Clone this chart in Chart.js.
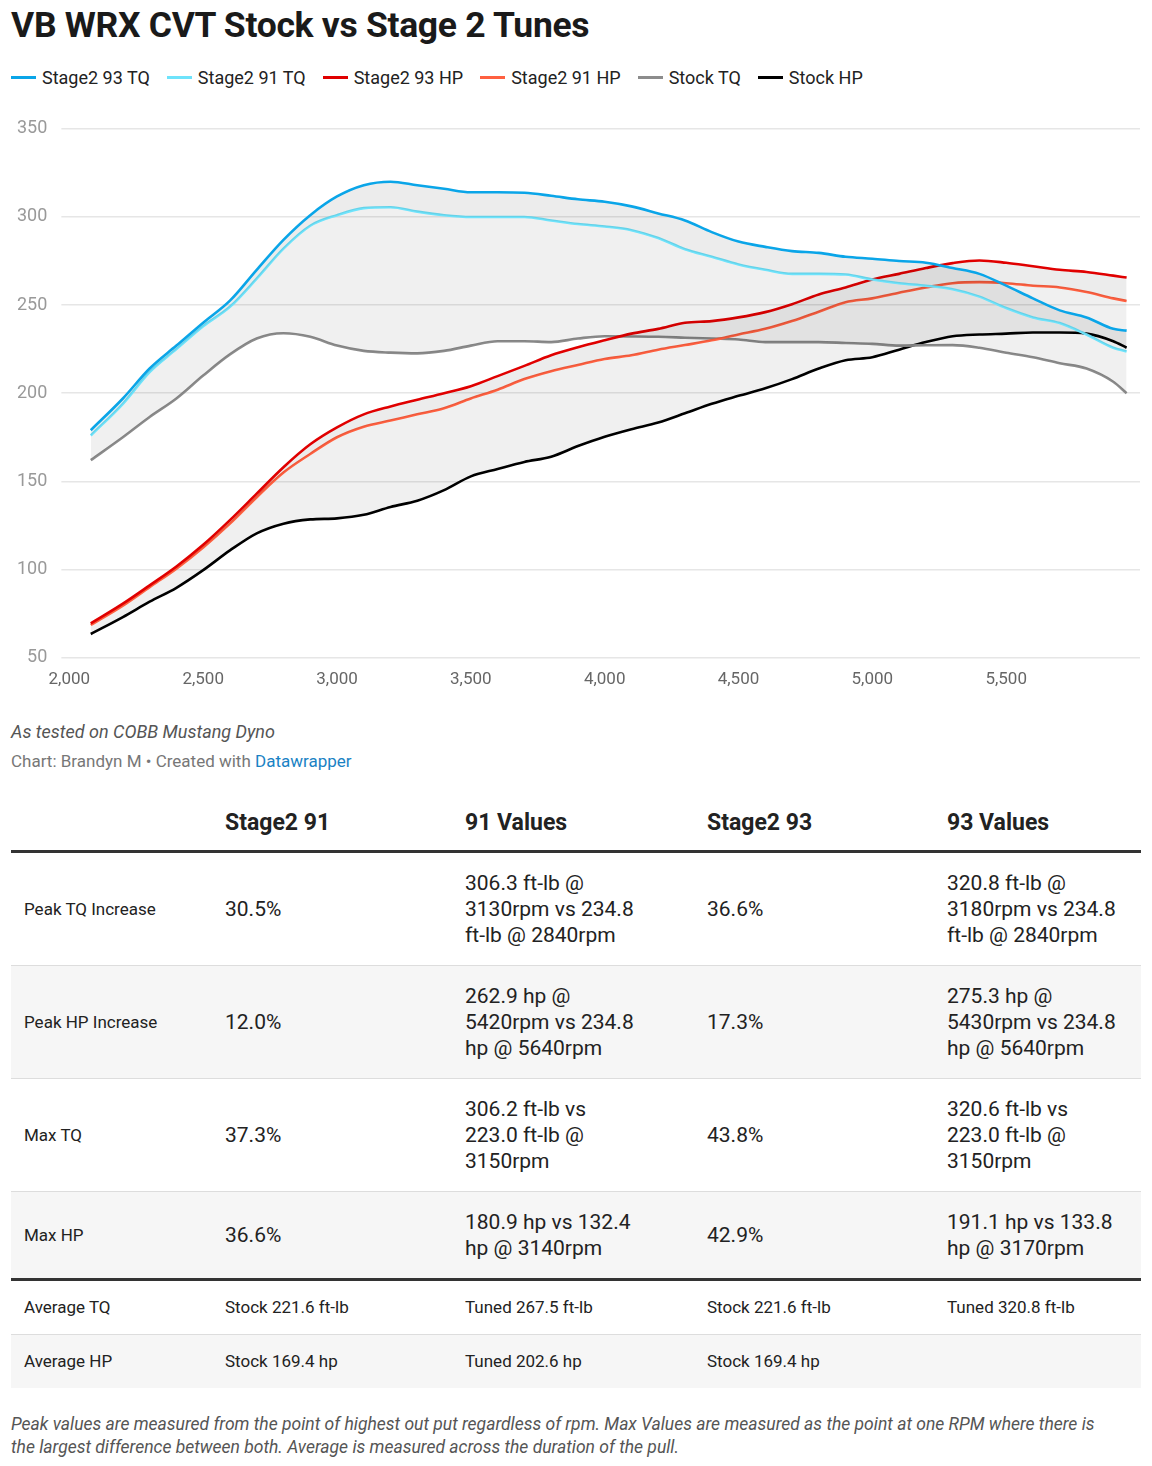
<!DOCTYPE html>
<html><head><meta charset="utf-8">
<script src="https://cdn.jsdelivr.net/npm/chart.js@4"></script>
<style>
body{margin:0;background:#fff;font-family:Roboto,"Noto Sans",sans-serif;color:#222;width:1152px;}
h1{position:absolute;left:11px;top:4px;margin:0;font-size:35.5px;font-weight:700;color:#1a1a1a;letter-spacing:-0.3px}
#legend{position:absolute;left:11px;top:67px;font-size:18px;color:#222;display:flex;gap:0}
#legend span{display:inline-flex;align-items:center;margin-right:17px}
#legend i{display:inline-block;width:25px;height:3px;margin-right:6px}
#wrap{position:absolute;left:3px;top:104px;width:1137px;height:590px}
.note{position:absolute;left:11px;font-size:17px}
table{position:absolute;left:11px;top:795px;width:1130px;border-collapse:collapse;font-size:21px;table-layout:fixed}
th{text-align:left;font-weight:700;font-size:23px;height:55px;vertical-align:middle;border-bottom:3px solid #333;padding:0}
td{vertical-align:middle;padding:17px 0;border-bottom:1px solid #ddd;line-height:26px}
td:first-child{font-size:17px;padding-left:13px}
tr.s td{background:#f6f6f6}
tr.sep td{border-bottom:3px solid #333}
tr.sm td{padding:16px 0;font-size:17px;line-height:21px}
tr.sm td:first-child{padding-left:13px}
</style></head><body>
<h1>VB WRX CVT Stock vs Stage 2 Tunes</h1>
<div id="legend"></div>
<div id="wrap"><canvas id="c"></canvas></div>
<div class="note" style="top:721px;font-style:italic;color:#555;font-size:18px">As tested on COBB Mustang Dyno</div>
<div class="note" style="top:751px;color:#777;font-size:17px">Chart: Brandyn M • Created with <span style="color:#1a82c4">Datawrapper</span></div>
<table>
<colgroup><col style="width:214px"><col style="width:240px"><col style="width:242px"><col style="width:240px"><col></colgroup>
<tr><th></th><th>Stage2 91</th><th>91 Values</th><th>Stage2 93</th><th>93 Values</th></tr>
<tr><td>Peak TQ Increase</td><td>30.5%</td><td>306.3 ft-lb @<br>3130rpm vs 234.8<br>ft-lb @ 2840rpm</td><td>36.6%</td><td>320.8 ft-lb @<br>3180rpm vs 234.8<br>ft-lb @ 2840rpm</td></tr>
<tr class="s"><td>Peak HP Increase</td><td>12.0%</td><td>262.9 hp @<br>5420rpm vs 234.8<br>hp @ 5640rpm</td><td>17.3%</td><td>275.3 hp @<br>5430rpm vs 234.8<br>hp @ 5640rpm</td></tr>
<tr><td>Max TQ</td><td>37.3%</td><td>306.2 ft-lb vs<br>223.0 ft-lb @<br>3150rpm</td><td>43.8%</td><td>320.6 ft-lb vs<br>223.0 ft-lb @<br>3150rpm</td></tr>
<tr class="s sep"><td>Max HP</td><td>36.6%</td><td>180.9 hp vs 132.4<br>hp @ 3140rpm</td><td>42.9%</td><td>191.1 hp vs 133.8<br>hp @ 3170rpm</td></tr>
<tr class="sm"><td>Average TQ</td><td>Stock 221.6 ft-lb</td><td>Tuned 267.5 ft-lb</td><td>Stock 221.6 ft-lb</td><td>Tuned 320.8 ft-lb</td></tr>
<tr class="sm s"><td style="border-bottom:none">Average HP</td><td style="border-bottom:none">Stock 169.4 hp</td><td style="border-bottom:none">Tuned 202.6 hp</td><td style="border-bottom:none">Stock 169.4 hp</td><td style="border-bottom:none"></td></tr>
</table>
<div class="note" style="top:1413px;font-style:italic;color:#555;font-size:17.5px;line-height:23px;width:1090px">Peak values are measured from the point of highest out put regardless of rpm. Max Values are measured as the point at one RPM where there is the largest difference between both. Average is measured across the duration of the pull.</div>
<script>
const rpm = [2080,2200,2300,2400,2500,2600,2700,2800,2900,3000,3100,3200,3300,3400,3500,3600,3700,3800,3900,4000,4100,4200,4300,4400,4500,4600,4700,4800,4900,5000,5100,5200,5300,5400,5500,5600,5700,5800,5900,5950];
const stage2_93_tq = [179,197,214,227,240,252.5,270,287,301,311.6,318,320,318,316,314,314,313.7,312,310,308.6,306,302,298,291.4,286,283,280.6,279.6,277.4,276.3,275,274,271,267.7,261,253.8,247,243,236.5,235.5];
const stage2_91_tq = [176,194,212,225,238,249,265,282,295,301,305,305.5,303,301,300,300,300,298,296,294.6,292.5,288,281.7,277.4,273,270,267.7,267.7,267.3,264.5,262.4,261,259,254.8,248.3,243,239.8,233.3,225.8,223.7];
const stage2_93_hp = [69.4,80.6,91,101.7,114,128,143,158,171,180.6,188,192.5,196.3,200,204,209.7,215.5,221.5,226,230,233.8,236.5,240,240.9,243,246,250.5,256,260,264.5,267.7,271,273.8,275.3,274,272,270,268.8,266.7,265.6];
const stage2_91_hp = [68.5,79.5,90,100.5,112.5,126,141,155,165.5,175,181,184.5,188,191.5,197,202,208,212.5,216,219.4,221.5,224.7,227.3,230,233.3,236.5,240.9,246.2,251.6,253.8,257,260,262.4,263,262.4,261,260,257.4,253.8,252.3];
const stock_tq = [162,175,186.5,197,210,222,231,234,232,227,224,223,222.6,224,227,229.5,229.5,229,231,232.3,232.2,232,231.5,231,230.5,229,229,229,228.5,228,227,227.2,227.3,225.8,223,220.4,217,214,206.5,200];
const stock_hp = [63.4,73,81.7,89.6,99.6,110.8,120.5,126,128.4,129,131,135.5,139,145,152.8,157,161,164,170,175.3,179.6,183.4,188.6,194,198.5,202.8,208,214,218.7,220.4,224.7,229,232.3,233.3,233.8,234.4,234.4,233.8,229.5,225.8];
const xTicks = [2000,2500,3000,3500,4000,4500,5000,5500];
const yTicks = [50,100,150,200,250,300,350];
const names = ['Stage2 93 TQ','Stage2 91 TQ','Stage2 93 HP','Stage2 91 HP','Stock TQ','Stock HP'];
const colors = ['#0aa5e8','#6ee3fb','#e00000','#ff6040','#8c8c8c','#000000'];
const series = [stage2_93_tq,stage2_91_tq,stage2_93_hp,stage2_91_hp,stock_tq,stock_hp];
const fills = [{target:1,above:'rgba(0,0,0,0.075)',below:'rgba(0,0,0,0.075)'},{target:4,above:'rgba(0,0,0,0.06)',below:'rgba(0,0,0,0.06)'},
  {target:3,above:'rgba(0,0,0,0.075)',below:'rgba(0,0,0,0.075)'},{target:5,above:'rgba(0,0,0,0.06)',below:'rgba(0,0,0,0.06)'},false,false];
const lg=document.getElementById('legend');
names.forEach((n,i)=>{lg.innerHTML+=`<span><i style="background:${colors[i]}"></i>${n}</span>`});
new Chart(document.getElementById('c'),{type:'line',
 data:{datasets:series.map((s,i)=>({label:names[i],data:s.map((v,j)=>({x:rpm[j],y:v})),borderColor:colors[i],borderWidth:2.6,pointRadius:0,tension:0.4,cubicInterpolationMode:'monotone',fill:fills[i]}))},
 options:{responsive:true,maintainAspectRatio:false,animation:false,
  plugins:{legend:{display:false},tooltip:{enabled:false}},
  layout:{padding:{top:6,right:0}},
  scales:{
   x:{type:'linear',min:2000,max:6000,afterBuildTicks:a=>{a.ticks=xTicks.map(v=>({value:v}))},
      grid:{display:false},border:{display:false},
      ticks:{color:'#666',font:{family:'Roboto',size:17},padding:4,callback:v=>v.toLocaleString('en-US')}},
   y:{min:50,max:350,afterBuildTicks:a=>{a.ticks=yTicks.map(v=>({value:v}))},
      grid:{color:'#e6e6e6',lineWidth:1.5},border:{display:false},
      ticks:{color:'#999',font:{family:'Roboto',size:18},padding:14}}
  }}});
</script>
</body></html>
